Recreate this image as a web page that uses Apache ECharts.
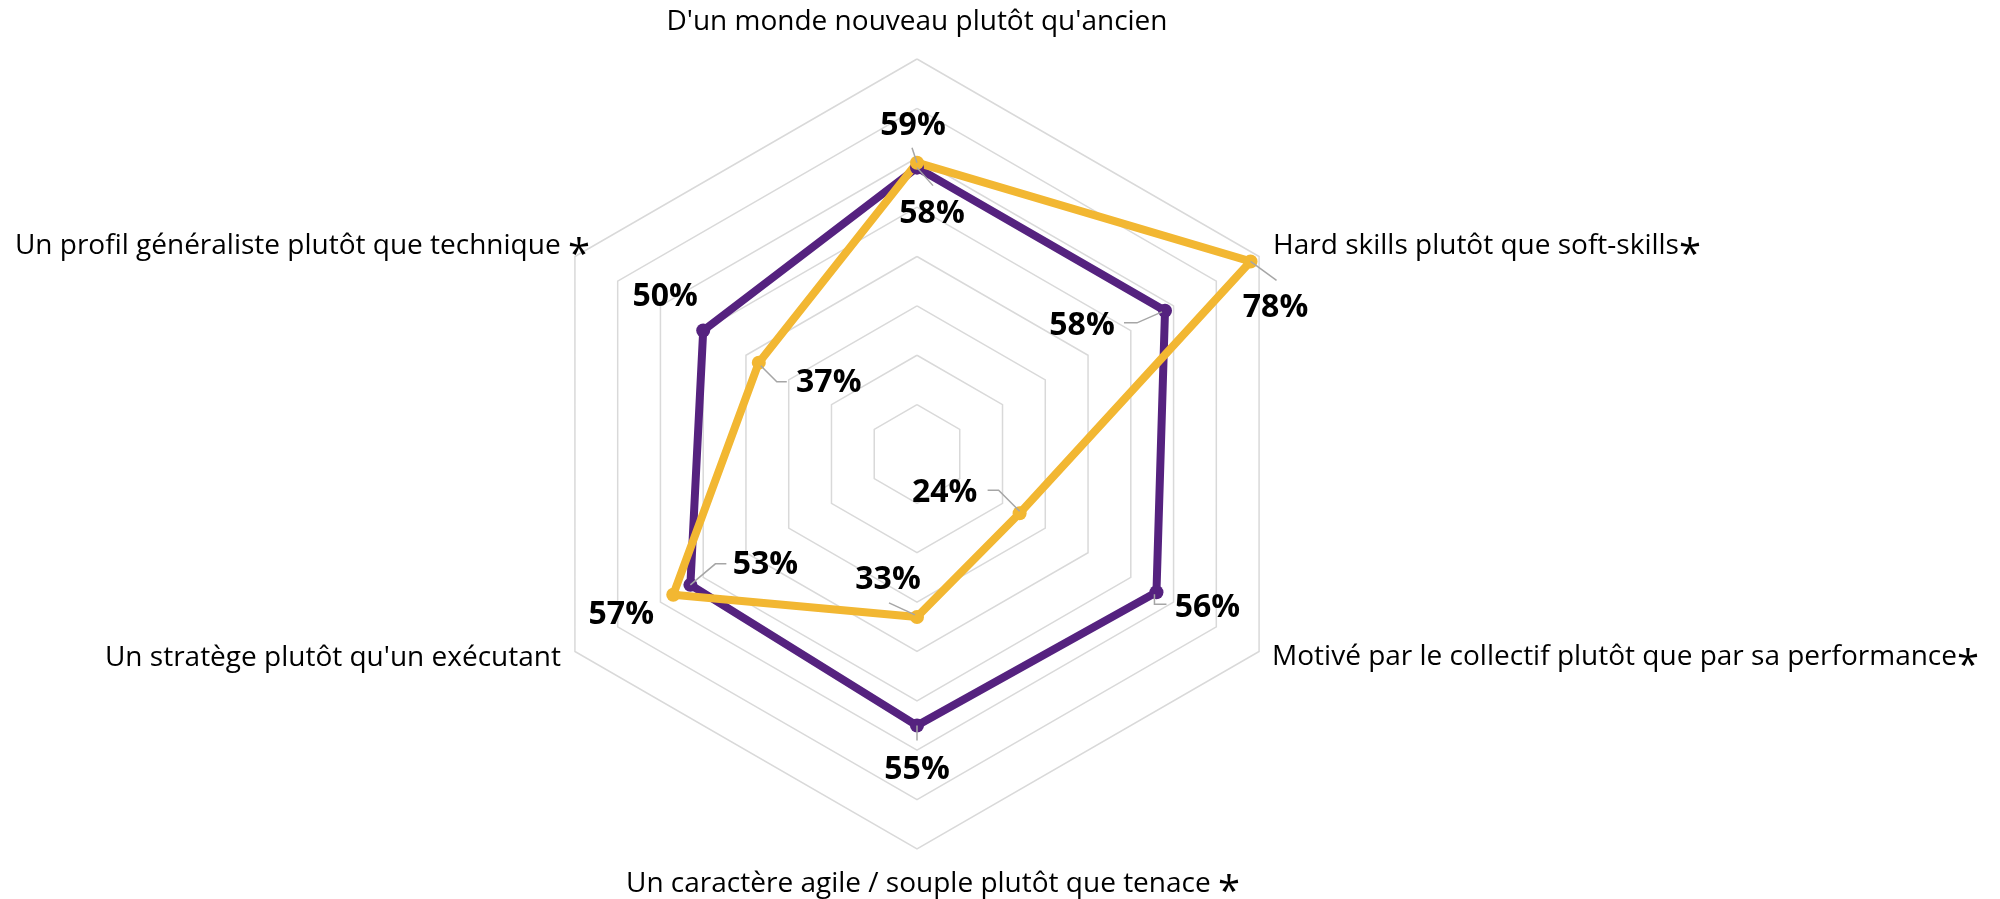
<!DOCTYPE html>
<html>
<head>
<meta charset="utf-8">
<script src="https://cdn.jsdelivr.net/npm/echarts@6/dist/echarts.min.js"></script>
<style>
  html, body { margin: 0; padding: 0; background: #fff; }
  #chart { width: 2000px; height: 899px; }
</style>
</head>
<body>
<div id="chart"></div>
<script>
// axes in radar order (counter-clockwise from the top)
var indicators = [
  "D'un monde nouveau plutôt qu'ancien",
  'Un profil généraliste plutôt que technique ',
  "Un stratège plutôt qu'un exécutant",
  'Un caractère agile / souple plutôt que tenace ',
  'Motivé par le collectif plutôt que par sa performance',
  'Hard skills plutôt que soft-skills'
];
var starred = [false, true, false, true, true, true];
var purpleValues = [58, 50, 53, 55, 56, 58];
var yellowValues = [59, 37, 57, 33, 24, 78];
var maxValue = 80;

var colors = ['#55227f', '#f2b732'];

// label placement relative to its point (px)
var labelOffsets = [
  [[15, 46], [-38, -34], [75, -20], [0, 44], [51, 16], [-83, 15]],
  [[-4, -37], [70, 20], [-52, 20], [-29, -37], [-75, -20], [25, 46]]
];
var leaderLines = [
  [[[0, 0], [16, 18]], null, [[0, 0], [25, -21], [36, -21]], [[0, 0], [0, 15]], [[-2, 2], [-2, 12], [10, 12]], [[-3, 1], [-28, 12], [-41, 12]]],
  [[[0, 0], [-5, -15]], [[2, 3], [18, 19], [28, 19]], null, [[-2, -2], [-28, -14]], [[0, -2], [-21, -23], [-32, -23]], [[0, 0], [26, 19]]]
];
// name placement relative to the outer vertex
var nameOffsets = [[0, -37], [15, -10], [-14, 7], [16, 35], [13, 6], [14, -10]];
var nameAligns = ['center', 'right', 'right', 'center', 'left', 'left'];

var step = 360 / indicators.length;
var labelData = [];
[purpleValues, yellowValues].forEach(function (vals, s) {
  vals.forEach(function (v, i) { labelData.push([v, i * step, s, i]); });
});
var nameData = indicators.map(function (n, i) { return [maxValue, i * step, i]; });

var myChart = echarts.init(document.getElementById('chart'));

var option = {
  animation: false,
  radar: {
    center: [917, 454],
    radius: 395,
    startAngle: 90,
    splitNumber: 8,
    shape: 'polygon',
    indicator: indicators.map(function (n) { return { name: n, min: 0, max: maxValue }; }),
    axisName: { show: false },
    axisLine: { show: false },
    axisTick: { show: false },
    axisLabel: { show: false },
    splitLine: { lineStyle: { color: '#d9d9d9', width: 1.5 } },
    splitArea: { show: false }
  },
  polar: { center: [917, 454], radius: 395 },
  angleAxis: { type: 'value', min: 0, max: 360, startAngle: 90, clockwise: false, show: false },
  radiusAxis: { type: 'value', min: 0, max: maxValue, show: false },
  series: [
    {
      type: 'radar',
      symbol: 'circle',
      symbolSize: 14,
      data: [
        { value: purpleValues, name: 'Série 1', lineStyle: { color: colors[0], width: 8 }, itemStyle: { color: colors[0], borderWidth: 0 } },
        { value: yellowValues, name: 'Série 2', lineStyle: { color: colors[1], width: 8 }, itemStyle: { color: colors[1], borderWidth: 0 } }
      ]
    },
    {
      type: 'custom',
      coordinateSystem: 'polar',
      silent: true,
      z: 10,
      data: labelData,
      renderItem: function (params, api) {
        var p = api.coord([api.value(0), api.value(1)]);
        var s = api.value(2), i = api.value(3);
        var off = labelOffsets[s][i];
        var lead = leaderLines[s][i];
        var children = [];
        if (lead) {
          children.push({
            type: 'polyline',
            shape: { points: lead.map(function (q) { return [p[0] + q[0], p[1] + q[1]]; }) },
            style: { stroke: '#a6a6a6', lineWidth: 1.5, fill: null }
          });
        }
        children.push({
          type: 'text',
          x: p[0] + off[0],
          y: p[1] + off[1],
          style: {
            text: api.value(0) + '%',
            font: 'bold 32px "Open Sans"',
            fill: '#000',
            align: 'center',
            verticalAlign: 'middle'
          }
        });
        return { type: 'group', children: children };
      }
    },
    {
      type: 'custom',
      coordinateSystem: 'polar',
      silent: true,
      z: 10,
      data: nameData,
      renderItem: function (params, api) {
        var p = api.coord([api.value(0), api.value(1)]);
        var i = api.value(2);
        var txt = '{n|' + indicators[i] + '}' + (starred[i] ? '{s|*}' : '');
        return {
          type: 'text',
          x: p[0] + nameOffsets[i][0],
          y: p[1] + nameOffsets[i][1],
          style: {
            text: txt,
            align: nameAligns[i],
            verticalAlign: 'middle',
            rich: {
              n: { fontFamily: 'Open Sans', fontSize: 28, color: '#000' },
              s: { fontFamily: 'Open Sans', fontSize: 40, color: '#000', padding: [20, 0, 0, 0] }
            }
          }
        };
      }
    }
  ]
};
myChart.setOption(option);
window.addEventListener('resize', function () { myChart.resize(); });
</script>
</body>
</html>
